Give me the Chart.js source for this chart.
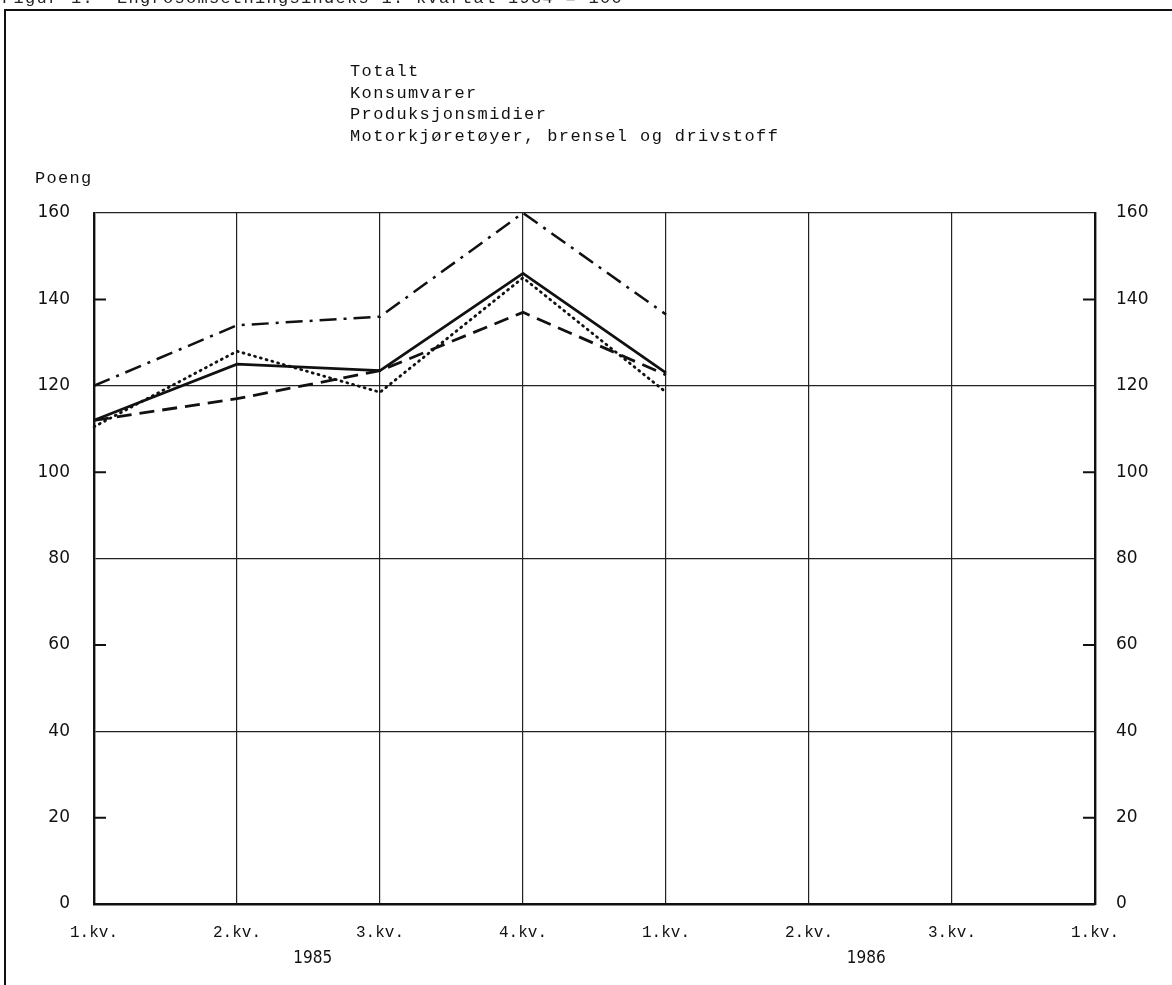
<!DOCTYPE html>
<html>
<head>
<meta charset="utf-8">
<script src="https://cdn.jsdelivr.net/npm/chart.js@4.4.1/dist/chart.umd.min.js"></script>
<style>
  html, body { margin: 0; padding: 0; background: #fff; overflow: hidden; }
  #wrap { position: relative; width: 1172px; height: 985px; }
  #frame { position: absolute; left: 4px; top: 9px; right: 0; bottom: 0;
           border-top: 2.5px solid #111; border-left: 2.5px solid #111; }
  #title { position: absolute; left: 2px; top: -11px; font: 17px "Liberation Mono", monospace;
           letter-spacing: 1.3px; color: #222; white-space: pre; }
  #legend { position: absolute; left: 350px; top: 61px; font: 17px "Liberation Mono", monospace;
            letter-spacing: 1.4px; color: #111; line-height: 21.5px; white-space: pre; }
  #unit { position: absolute; left: 35px; top: 169px; font: 17px "Liberation Mono", monospace;
          letter-spacing: 1.3px; color: #111; }
  canvas { position: absolute; left: 0; top: 0; }
</style>
</head>
<body>
<div id="wrap">
  <canvas id="canvas" width="1172" height="985"></canvas>
  <div id="frame"></div>
  <div id="title">Figur 1.  Engrosomsetningsindeks 1. kvartal 1984 = 100</div>
  <div id="legend"></div>
  <div id="unit">Poeng</div>
</div>
<script>
var labels = ['1.kv.', '2.kv.', '3.kv.', '4.kv.', '1.kv.', '2.kv.', '3.kv.', '1.kv.'];
var years = ['1985', '1986'];
var yearPos = [1.53, 5.4];
var yTicks = [0, 20, 40, 60, 80, 100, 120, 140, 160];

var names = ['Totalt', 'Konsumvarer', 'Produksjonsmidier', 'Motorkjøretøyer, brensel og drivstoff'];
var totalt = [112, 125, 123.5, 146, 123, null, null, null];
var konsum = [110.5, 128, 118.5, 145, 118.5, null, null, null];
var produksjon = [112, 117, 123.5, 137, 122.5, null, null, null];
var motor = [120, 134, 136, 160, 136.5, null, null, null];

document.getElementById('legend').textContent = names.join('\n');

var styles = [
    {borderDash: [], borderWidth: 2.8},
    {borderDash: [1, 5], borderWidth: 2.8},
    {borderDash: [15, 8], borderWidth: 2.8},
    {borderDash: [17, 7, 3, 7], borderWidth: 2.5}
];

var innerTicks = {
    id: 'innerTicks',
    afterDraw: function (chart) {
        var ctx = chart.ctx, y = chart.scales.y, area = chart.chartArea;
        ctx.save();
        ctx.strokeStyle = '#111';
        ctx.lineWidth = 2;
        yTicks.forEach(function (v) {
            if (v % 40 === 0) return;
            var py = y.getPixelForValue(v);
            ctx.beginPath();
            ctx.moveTo(area.left, py); ctx.lineTo(area.left + 12, py);
            ctx.moveTo(area.right - 12, py); ctx.lineTo(area.right, py);
            ctx.stroke();
        });
        ctx.restore();
    }
};

var config = {type: 'line'};
config.data = {
    labels: labels,
    datasets: [totalt, konsum, produksjon, motor].map(function (d, i) {
        return {
            label: names[i],
            data: d,
            borderColor: '#111',
            borderDash: styles[i].borderDash,
            borderWidth: styles[i].borderWidth,
            borderCapStyle: i === 1 ? 'round' : 'butt',
            pointRadius: 0,
            tension: 0,
            fill: false,
            spanGaps: false
        };
    })
};
config.options = {
    responsive: false,
    animation: false,
    layout: {padding: {top: 213, left: 0, right: 0, bottom: 0}},
    plugins: {legend: {display: false}, tooltip: {enabled: false}},
    scales: {
        x: {
            type: 'category',
            offset: false,
            grid: {color: '#222', lineWidth: 1.2, drawTicks: false},
            border: {color: '#111', width: 2.4},
            ticks: {
                color: '#111', padding: 19, maxRotation: 0, autoSkip: false,
                font: {family: 'Liberation Mono', size: 16}
            },
            afterFit: function (s) { s.height = 44; }
        },
        years: {
            type: 'linear',
            position: 'bottom',
            min: 0, max: 7,
            grid: {display: false, drawTicks: false},
            border: {display: false},
            afterBuildTicks: function (s) {
                s.ticks = yearPos.map(function (v) { return {value: v}; });
            },
            ticks: {
                color: '#111', padding: 0,
                font: {family: 'DejaVu Sans Condensed', size: 17},
                callback: function (v, i) { return years[i]; }
            },
            afterFit: function (s) { s.height = 37; }
        },
        y: {
            position: 'left',
            min: 0, max: 160,
            afterBuildTicks: function (s) {
                s.ticks = yTicks.map(function (v) { return {value: v}; });
            },
            grid: {
                drawTicks: false, lineWidth: 1.2,
                color: function (c) { return c.tick && c.tick.value % 40 === 0 ? '#222' : 'rgba(0,0,0,0)'; }
            },
            border: {color: '#111', width: 2.4},
            ticks: {color: '#111', padding: 24, font: {family: 'DejaVu Sans', size: 17}},
            afterFit: function (s) { s.width = 94; }
        },
        y2: {
            position: 'right',
            min: 0, max: 160,
            afterBuildTicks: function (s) {
                s.ticks = yTicks.map(function (v) { return {value: v}; });
            },
            grid: {drawOnChartArea: false, drawTicks: false},
            border: {color: '#111', width: 2.4},
            ticks: {color: '#111', padding: 21, font: {family: 'DejaVu Sans', size: 17}},
            afterFit: function (s) { s.width = 77; }
        }
    }
};
config.plugins = [innerTicks];

var chart = new Chart(document.getElementById('canvas'), config);
</script>
</body>
</html>
